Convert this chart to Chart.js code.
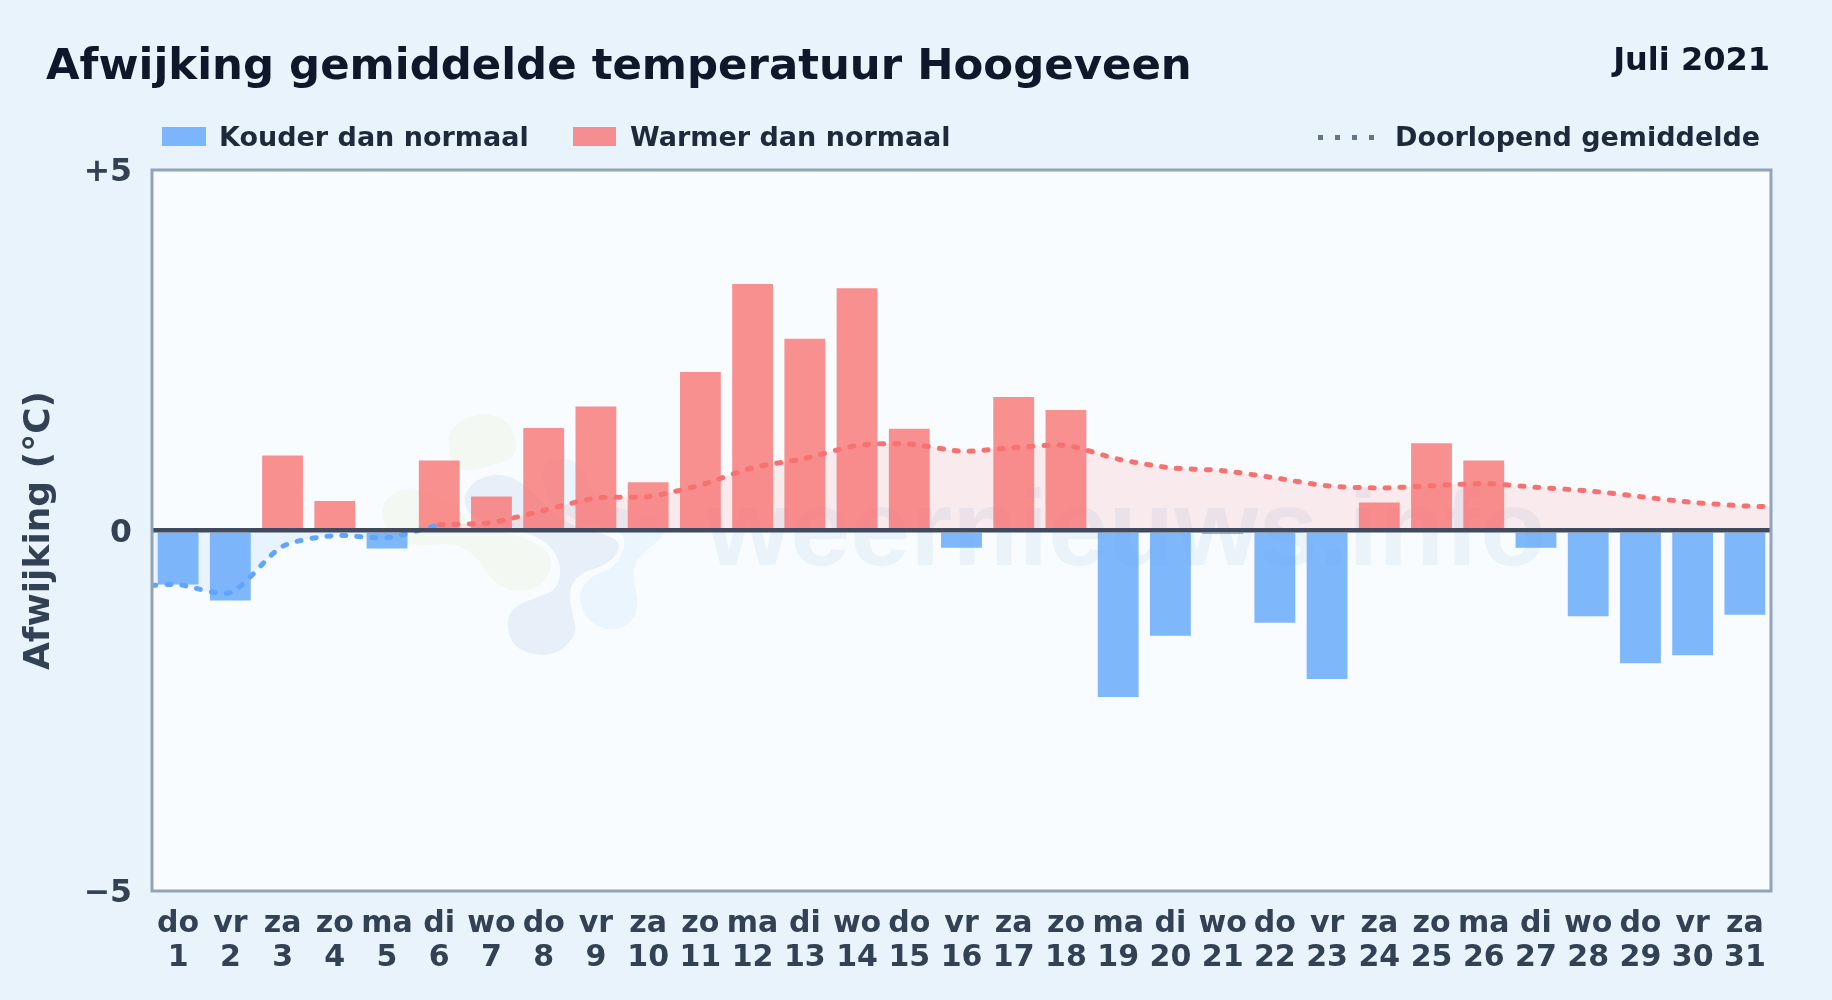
<!DOCTYPE html>
<html lang="nl">
<head>
<meta charset="utf-8">
<title>Afwijking gemiddelde temperatuur Hoogeveen</title>
<script src="https://cdn.jsdelivr.net/npm/chart.js@4"></script>
<style>
  html, body { margin: 0; height: 100%; overflow: hidden; }
  body {
    position: relative;
    width: 1832px;
    height: 1000px;
    background: #e8f3fc;
    font-family: "DejaVu Sans", sans-serif;
    font-weight: bold;
  }
  canvas { position: absolute; left: 0; top: 0; }
  .txt { position: absolute; line-height: 1; white-space: nowrap; }
  #title { left: 46px; top: 43px; font-size: 43.4px; color: #0f172a; }
  #period { right: 62px; top: 43px; font-size: 32px; color: #0f172a; }
  .leg { top: 123px; font-size: 27px; color: #1e293b; }
  .swatch { position: absolute; top: 127px; height: 19px; }
  #dots {
    position: absolute; left: 1318px; top: 135px; width: 56px; height: 5px;
    background: repeating-linear-gradient(90deg, #64748b 0 5px, transparent 5px 17px);
  }
</style>
</head>
<body>
<canvas id="chart" width="1832" height="1000"></canvas>
<div class="txt" id="title">Afwijking gemiddelde temperatuur Hoogeveen</div>
<div class="txt" id="period">Juli 2021</div>
<div class="swatch" style="left:162px;width:44px;background:rgba(96,165,250,0.8)"></div>
<div class="txt leg" style="left:219px">Kouder dan normaal</div>
<div class="swatch" style="left:573px;width:43px;background:rgba(248,113,113,0.78)"></div>
<div class="txt leg" style="left:630px">Warmer dan normaal</div>
<div id="dots"></div>
<div class="txt leg" style="left:1395px">Doorlopend gemiddelde</div>
<script>
const weekdays = ["do","vr","za","zo","ma","di","wo","do","vr","za","zo","ma","di","wo","do","vr","za","zo","ma","di","wo","do","vr","za","zo","ma","di","wo","do","vr","za"];
const days = [1,2,3,4,5,6,7,8,9,10,11,12,13,14,15,16,17,18,19,20,21,22,23,24,25,26,27,28,29,30,31];
const deviations = [-0.75,-0.97,1.04,0.41,-0.25,0.97,0.47,1.42,1.72,0.67,2.2,3.42,2.66,3.36,1.41,-0.24,1.85,1.67,-2.31,-1.46,-0.05,-1.28,-2.06,0.39,1.21,0.97,-0.24,-1.19,-1.84,-1.73,-1.17];

// running mean; the first and last point sit on the plot edge
const coldX = [0.5,1,2,3,4,5,6];
const coldMean = [-0.76,-0.75,-0.86,-0.22,-0.07,-0.1,0.08];
const warmX = [6,7,8,9,10,11,12,13,14,15,16,17,18,19,20,21,22,23,24,25,26,27,28,29,30,31,31.5];
const warmMean = [0.08,0.11,0.28,0.45,0.47,0.63,0.87,1.0,1.18,1.2,1.1,1.15,1.18,0.99,0.87,0.83,0.73,0.62,0.59,0.62,0.65,0.6,0.55,0.47,0.39,0.34,0.33];

const yTicks = [-5, 0, 5];

const blue = "#60a5fa";
const red = "#f87171";
const inkAxis = "#334155";

const toPoints = (xs, ys) => xs.map((x, i) => ({ x: x, y: ys[i] }));

// logo outlines of the watermark, page pixels
const logoDark = [[462,497],[477,478],[503,473],[530,487],[560,523],[617,537],[620,550],[607,565],[580,573],[568,590],[573,617],[577,633],[560,653],[537,656],[513,647],[506,623],[513,607],[537,597],[557,590],[562,567],[550,543],[520,530],[493,523],[470,517]];
const logoLight = [[540,463],[567,457],[587,470],[590,497],[640,515],[670,523],[660,540],[637,557],[632,577],[640,607],[627,627],[607,631],[587,620],[578,597],[587,578],[617,567],[627,540],[617,530],[573,520],[547,503]];
const logoGreenTop = [[448,433],[463,418],[487,413],[507,420],[517,440],[515,458],[493,465],[467,472],[452,465],[449,447]];
const logoGreen = [[380,513],[390,493],[413,488],[453,500],[470,527],[510,533],[547,547],[553,567],[540,587],[517,593],[493,583],[480,560],[457,542],[413,547],[390,537]];

// closed smooth shape through midpoints of the outline
function blob(ctx, color, pts) {
  const mid = (p, q) => [(p[0] + q[0]) / 2, (p[1] + q[1]) / 2];
  ctx.fillStyle = color;
  ctx.beginPath();
  const start = mid(pts[pts.length - 1], pts[0]);
  ctx.moveTo(start[0], start[1]);
  pts.forEach((p, i) => {
    const m = mid(p, pts[(i + 1) % pts.length]);
    ctx.quadraticCurveTo(p[0], p[1], m[0], m[1]);
  });
  ctx.closePath();
  ctx.fill();
}

// plot background and faint watermark behind the bars
const backdrop = {
  id: "backdrop",
  beforeDatasetsDraw(chart) {
    const { ctx, chartArea: a } = chart;
    ctx.save();
    ctx.fillStyle = "#f8fcff";
    ctx.fillRect(a.left, a.top, a.right - a.left, a.bottom - a.top);
    blob(ctx, "#e7f0f8", logoDark);
    blob(ctx, "#eaf5fd", logoLight);
    blob(ctx, "#f3f8f2", logoGreenTop);
    blob(ctx, "#f3f8f2", logoGreen);

    ctx.font = "bold 108px 'Liberation Sans', sans-serif";
    ctx.fillStyle = "rgba(51,110,180,0.07)";
    ctx.textBaseline = "alphabetic";
    ctx.fillText("weernieuws.info", 706, 565);
    ctx.restore();
  },
  afterDraw(chart) {
    const { ctx, chartArea: a } = chart;
    ctx.save();
    ctx.strokeStyle = "#94a3b8";
    ctx.lineWidth = 3;
    ctx.strokeRect(a.left, a.top, a.right - a.left, a.bottom - a.top);
    ctx.restore();
  }
};

new Chart(document.getElementById("chart").getContext("2d"), {
  data: {
    labels: weekdays.map((w, i) => [w, String(days[i])]),
    datasets: [
      {
        type: "line",
        label: "Doorlopend gemiddelde (koud)",
        data: toPoints(coldX, coldMean),
        xAxisID: "xLine",
        order: 1,
        borderColor: blue,
        borderWidth: 5,
        borderDash: [4, 11],
        borderCapStyle: "round",
        pointRadius: 0,
        tension: 0.25,
        fill: { target: { value: 0 }, above: "rgba(96,165,250,0.1)", below: "rgba(96,165,250,0.1)" }
      },
      {
        type: "line",
        label: "Doorlopend gemiddelde (warm)",
        data: toPoints(warmX, warmMean),
        xAxisID: "xLine",
        order: 1,
        borderColor: red,
        borderWidth: 5,
        borderDash: [4, 11],
        borderCapStyle: "round",
        pointRadius: 0,
        tension: 0.25,
        fill: { target: { value: 0 }, above: "rgba(248,113,113,0.13)", below: "rgba(248,113,113,0.13)" }
      },
      {
        type: "bar",
        label: "Afwijking",
        data: deviations,
        order: 2,
        grouped: false,
        barPercentage: 0.85,
        categoryPercentage: 0.92,
        backgroundColor: deviations.map(v => v < 0 ? "rgba(96,165,250,0.8)" : "rgba(248,113,113,0.78)")
      }
    ]
  },
  plugins: [backdrop],
  options: {
    responsive: false,
    animation: false,
    events: [],
    layout: { padding: { top: 170, right: 61, left: 0, bottom: 0 } },
    plugins: { legend: { display: false }, tooltip: { enabled: false } },
    scales: {
      x: {
        type: "category",
        offset: true,
        border: { display: false },
        grid: { display: false },
        afterFit(scale) { scale.height = 109; },
        ticks: {
          color: inkAxis,
          font: { family: "'DejaVu Sans'", size: 30, weight: "bold", lineHeight: 1.13 },
          padding: 8,
          autoSkip: false,
          maxRotation: 0
        }
      },
      xLine: { type: "linear", min: 0.5, max: 31.5, display: false },
      y: {
        min: -5,
        max: 5,
        border: { display: false },
        afterFit(scale) { scale.width = 152; },
        afterBuildTicks(scale) { scale.ticks = yTicks.map(v => ({ value: v })); },
        grid: {
          z: 1,
          drawTicks: false,
          lineWidth: 4.5,
          color: ctx => ctx.tick.value === 0 ? "#3f4a5e" : "transparent"
        },
        ticks: {
          color: inkAxis,
          font: { family: "'DejaVu Sans'", size: 31.5, weight: "bold" },
          padding: 20,
          labelOffset: 3,
          callback: v => v > 0 ? "+" + v : v < 0 ? "\u2212" + Math.abs(v) : "0"
        },
        title: {
          display: true,
          text: "Afwijking (°C)",
          color: inkAxis,
          font: { family: "'DejaVu Sans'", size: 36, weight: "bold" },
          padding: { top: 18, bottom: 0 }
        }
      }
    }
  }
});
</script>
</body>
</html>
